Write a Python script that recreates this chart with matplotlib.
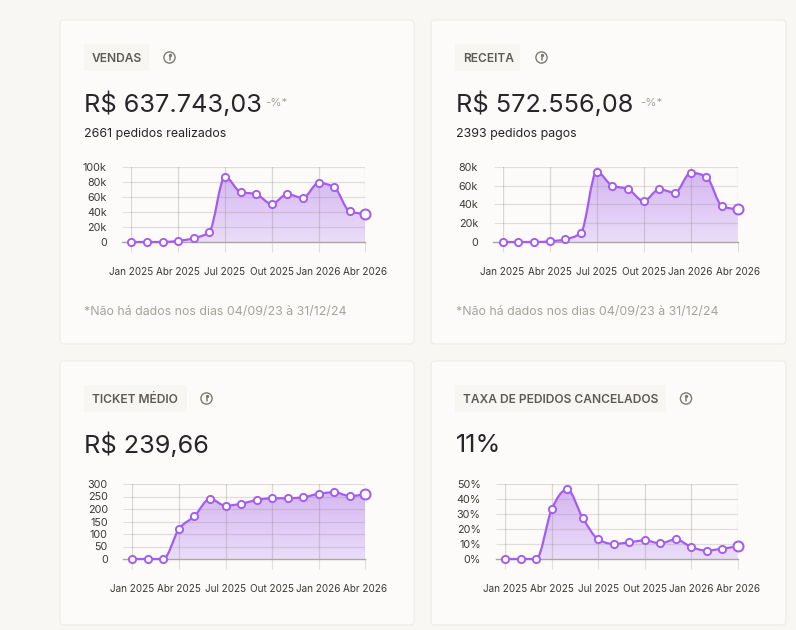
import numpy as np
import matplotlib
matplotlib.use("Agg")
import matplotlib.pyplot as plt
from matplotlib.patches import FancyBboxPatch, Circle, PathPatch, Rectangle
from matplotlib.path import Path
from matplotlib.colors import LinearSegmentedColormap

plt.rcParams["font.family"] = ["Inter", "DejaVu Sans"]

W, H = 796, 630
PT = 0.72  # px to pt at dpi 100

months = list(range(16))
tick_months = [0, 3, 6, 9, 12, 15]
tick_labels = ["Jan 2025", "Abr 2025", "Jul 2025", "Out 2025", "Jan 2026", "Abr 2026"]

vendas = [0, 0, 0, 1500, 5000, 13500, 87500, 67000, 64000, 51000, 64000, 59000, 79000, 73500, 41000, 37500]
receita = [0, 0, 0, 700, 2800, 9600, 74700, 59800, 56300, 43500, 56000, 52400, 73600, 69400, 38200, 34700]
ticket = [0, 0, 0, 120, 171, 241, 213, 221, 236, 243, 243, 247, 261, 267, 252, 259]
cancelados = [0, 0, 0, 33.3, 46.4, 27.3, 13.1, 10, 11.1, 12.4, 10.4, 13.1, 8, 5.6, 6.9, 8.4]

vendas_ticks = [0, 20000, 40000, 60000, 80000, 100000]
vendas_tick_labels = ["0", "20k", "40k", "60k", "80k", "100k"]
receita_ticks = [0, 20000, 40000, 60000, 80000]
receita_tick_labels = ["0", "20k", "40k", "60k", "80k"]
ticket_ticks = [0, 50, 100, 150, 200, 250, 300]
ticket_tick_labels = ["0", "50", "100", "150", "200", "250", "300"]
cancel_ticks = [0, 10, 20, 30, 40, 50]
cancel_tick_labels = ["0%", "10%", "20%", "30%", "40%", "50%"]

PURPLE = "#A45CF0"
GRID = "#E2E0DC"
BASE = "#A9A7A3"
INK = "#26252A"
MUTED = "#A5A39C"

fig = plt.figure(figsize=(W / 100, H / 100), dpi=100, facecolor="#F8F7F4")
page = fig.add_axes([0, 0, 1, 1], zorder=0)
page.set_xlim(0, W)
page.set_ylim(H, 0)
page.axis("off")


def px_text(x, y, s, size, color=INK, weight="normal", ha="left"):
    page.text(x, y, s, fontsize=size * PT, color=color, weight=weight, ha=ha, va="center_baseline")


def card(x0, y0, x1, y1):
    page.add_patch(FancyBboxPatch((x0 + 4, y0 + 4), x1 - x0 - 8, y1 - y0 - 8,
                                  boxstyle="round,pad=4,rounding_size=4",
                                  fc="#FCFBF9", ec="#EEECE8", lw=0.8))


def title_chip(x0, x1, y0, y1, title, info_x):
    page.add_patch(Rectangle((x0, y0), x1 - x0, y1 - y0, fc="#F7F6F3", ec="none"))
    px_text(x0 + 8, (y0 + y1) / 2, title, 12, color="#5E5B54", weight="semibold")
    cy = (y0 + y1) / 2
    page.add_patch(Circle((info_x, cy), 5.6, fc="none", ec="#7D7A73", lw=1.0))
    page.plot([info_x, info_x], [cy - 0.6, cy + 2.8], color="#7D7A73", lw=1.1, solid_capstyle="round")
    page.plot([info_x], [cy - 2.8], marker="o", ms=1.4, color="#7D7A73")


def monotone_path(x, y):
    """Cubic Bezier segments following a monotone cubic through the points."""
    x = np.asarray(x, float)
    y = np.asarray(y, float)
    h = np.diff(x)
    d = np.diff(y) / h
    m = np.zeros_like(y)
    for i in range(1, len(y) - 1):
        if d[i - 1] * d[i] > 0:
            m[i] = (np.sign(d[i - 1]) + np.sign(d[i])) * min(abs(d[i - 1]), abs(d[i]),
                                                             0.25 * abs(d[i - 1] + d[i]))
    m[0] = (3 * d[0] - m[1]) / 2
    m[-1] = (3 * d[-1] - m[-2]) / 2
    verts = [(x[0], y[0])]
    codes = [Path.MOVETO]
    for i in range(len(h)):
        verts += [(x[i] + h[i] / 3, y[i] + m[i] * h[i] / 3),
                  (x[i + 1] - h[i] / 3, y[i + 1] - m[i + 1] * h[i] / 3),
                  (x[i + 1], y[i + 1])]
        codes += [Path.CURVE4] * 3
    return verts, codes


FILL = LinearSegmentedColormap.from_list("fill", ["#EBDDF9", "#D3B3F1"])


def area_chart(x0, x1, y_bottom, y_top, values, yticks, ylabels, label_pad=15):
    ax = fig.add_axes([x0 / W, 1 - y_bottom / H, (x1 - x0) / W, (y_bottom - y_top) / H],
                      zorder=2, facecolor="none")
    ax.set_xlim(0, 15)
    ax.set_ylim(0, yticks[-1])
    for s in ax.spines.values():
        s.set_visible(False)

    verts, codes = monotone_path(months, values)
    line = Path(verts, codes)
    area = Path(verts + [(15, 0), (0, 0), (0, 0)],
                codes + [Path.LINETO, Path.LINETO, Path.CLOSEPOLY])
    grad = np.linspace(1, 0, 256).reshape(-1, 1)
    img = ax.imshow(grad, extent=(0, 15, 0, yticks[-1]), aspect="auto", cmap=FILL,
                    origin="upper", zorder=1)
    img.set_clip_path(PathPatch(area, transform=ax.transData))

    ax.set_xlim(0, 15)
    ax.set_ylim(0, yticks[-1])
    ax.set_xticks(tick_months, tick_labels)
    ax.set_yticks(yticks, ylabels)
    ax.tick_params(axis="x", length=9.5 * PT, width=0.8, color=GRID, pad=15.5 * PT,
                   labelsize=9.9 * PT, labelcolor="#3A3936")
    ax.tick_params(axis="y", length=9.5 * PT, width=0.8, color=GRID, pad=label_pad * PT,
                   labelsize=10.8 * PT, labelcolor="#3A3936")
    for v in tick_months:
        ax.axvline(v, color="#8C8A86", alpha=0.3, lw=0.9, zorder=2)
    for v in yticks[1:]:
        ax.axhline(v, color="#8C8A86", alpha=0.25, lw=0.9, zorder=2)
    ax.plot([-9.5 / ((x1 - x0) / 15), 15], [0, 0], color=BASE, lw=1.0, zorder=2, clip_on=False)

    ax.add_patch(PathPatch(line, fc="none", ec=PURPLE, lw=2.0 * PT * 1.1, zorder=3, clip_on=False))
    ax.plot(months[:-1], values[:-1], ls="none", marker="o", ms=7.2 * PT, mfc="white", mec=PURPLE,
            mew=1.9 * PT, zorder=4, clip_on=False)
    ax.plot(months[-1:], values[-1:], ls="none", marker="o", ms=10 * PT, mfc="white", mec=PURPLE,
            mew=2.0 * PT, zorder=5, clip_on=False)
    return ax


# Cards
card(60, 20, 414, 344)
card(431, 20, 786, 344)
card(60, 361, 414, 625)
card(431, 361, 786, 625)

# Sales
title_chip(84, 149, 44, 71, "VENDAS", 169.5)
px_text(84, 102, "R$ 637.743,03", 25.3)
px_text(265, 102, "-%*", 11.5, color=MUTED)
px_text(84, 132, "2661 pedidos realizados", 12.4)
px_text(84, 310, "*Não há dados nos dias 04/09/23 à 31/12/24", 12.4, color=MUTED)
area_chart(131.3, 365.3, 242, 167.3, vendas, vendas_ticks, vendas_tick_labels)

# Revenue
title_chip(455, 520, 44, 71, "RECEITA", 541.5)
px_text(456, 102, "R$ 572.556,08", 25.3)
px_text(640, 102, "-%*", 11.5, color=MUTED)
px_text(456, 132, "2393 pedidos pagos", 12.4)
px_text(456, 310, "*Não há dados nos dias 04/09/23 à 31/12/24", 12.4, color=MUTED)
area_chart(502.5, 737.7, 242, 166.7, receita, receita_ticks, receita_tick_labels)

# Average ticket
title_chip(84, 187, 385, 412, "TICKET MÉDIO", 206.5)
px_text(84, 443, "R$ 239,66", 25.3)
area_chart(132.3, 365.3, 559, 484, ticket, ticket_ticks, ticket_tick_labels)

# Cancelled orders
title_chip(455, 666, 385, 412, "TAXA DE PEDIDOS CANCELADOS", 686)
px_text(456, 443, "11%", 25.3)
area_chart(505.3, 737.7, 559, 484, cancelados, cancel_ticks, cancel_tick_labels)

fig.savefig("out.png", dpi=100, facecolor=fig.get_facecolor())
